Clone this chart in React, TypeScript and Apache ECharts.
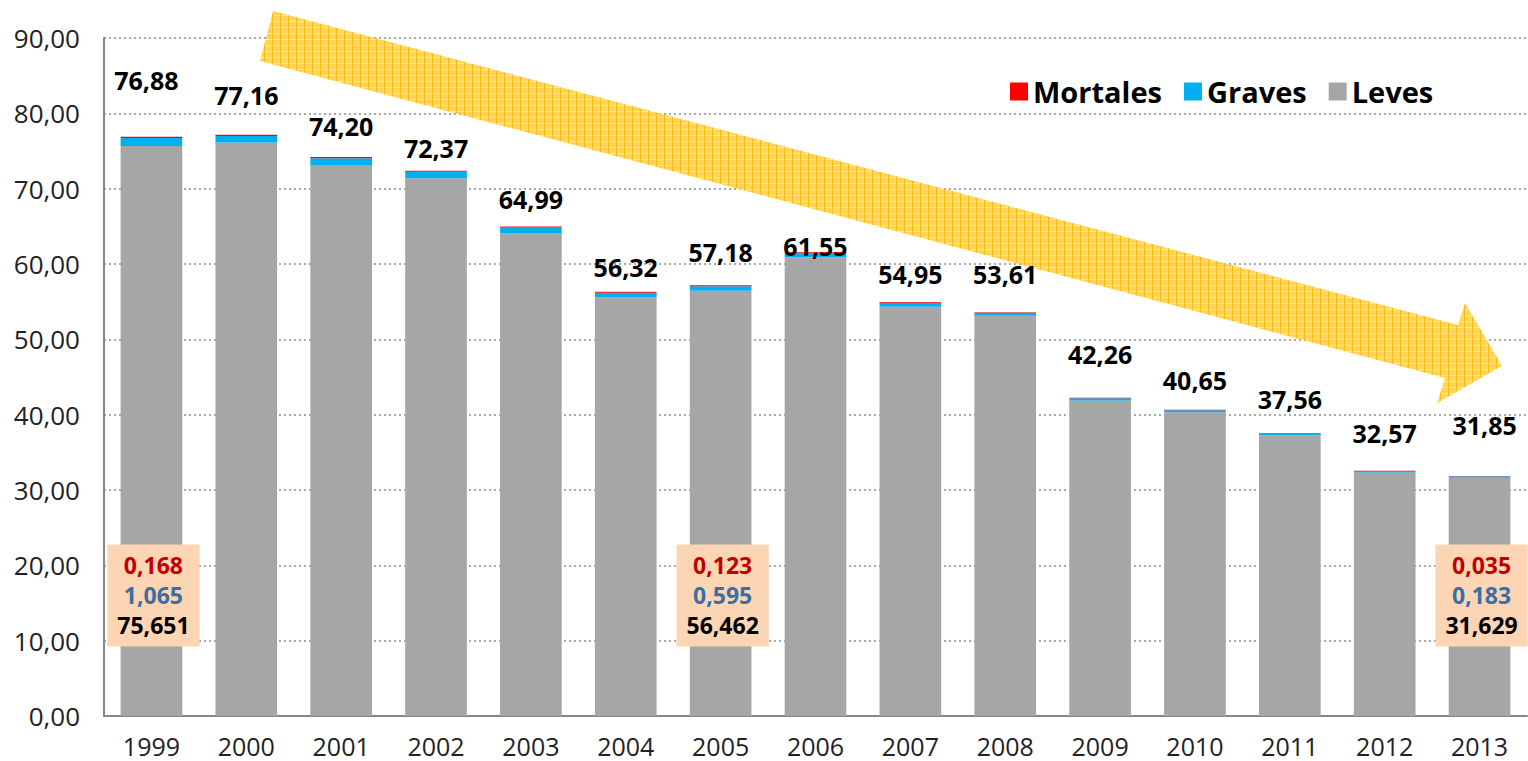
import React, { useEffect, useRef } from "react";
import * as echarts from "echarts";

const years = ["1999", "2000", "2001", "2002", "2003", "2004", "2005", "2006", "2007", "2008", "2009", "2010", "2011", "2012", "2013"];
const leves = [75.651, 76.14, 73.15, 71.38, 64.06, 55.59, 56.462, 60.88, 54.34, 53.12, 41.89, 40.31, 37.26, 32.33, 31.629];
const graves = [1.065, 0.85, 0.9, 0.85, 0.8, 0.6, 0.595, 0.55, 0.5, 0.4, 0.3, 0.28, 0.25, 0.2, 0.183];
const mortales = [0.168, 0.17, 0.15, 0.14, 0.13, 0.13, 0.123, 0.12, 0.11, 0.09, 0.07, 0.06, 0.05, 0.04, 0.035];
const boxYears = ["1999", "2005", "2013"];
const yTicks = { min: 0, max: 90, interval: 10 };

// styling: how far each total label sits above its bar (px) and horizontal nudge
const labelLift = [57, 40, 32, 23, 28, 25, 34, 7, 29, 39, 44, 30, 35, 38, 52];
const labelShift = [-5, 0, 0, 0, 0, 0, 0, 0, 0, 0, 0, 0, 0, 0, 5];

const fmt = (v: number, d: number) => v.toFixed(d).replace(".", ",");
const FONT = "'Open Sans', 'DejaVu Sans', sans-serif";

function makePattern(): string {
  const c = document.createElement("canvas");
  c.width = 8;
  c.height = 6;
  const ctx = c.getContext("2d")!;
  ctx.fillStyle = "#FFCF45";
  ctx.fillRect(0, 0, 8, 6);
  ctx.fillStyle = "#FFE594";
  ctx.fillRect(0, 3, 8, 1);
  ctx.fillStyle = "#F5B300";
  ctx.fillRect(0, 0, 1, 6);
  return c.toDataURL();
}

export default function App() {
  const ref = useRef<HTMLDivElement>(null);
  useEffect(() => {
    if (!ref.current) return;
    const chart = echarts.init(ref.current, undefined, { renderer: "svg" });
    const pattern = makePattern();
    const totals = years.map((_, i) => leves[i] + graves[i] + mortales[i]);
    const option: any = {
      animation: false,
      textStyle: { fontFamily: FONT },
      legend: {
        data: ["Mortales", "Graves", "Leves"],
        left: 1005,
        top: 72,
        icon: "rect",
        itemWidth: 18,
        itemHeight: 18,
        itemGap: 22,
        textStyle: { fontSize: 29, fontWeight: "bold", color: "#000", fontFamily: FONT },
      },
      grid: { left: 104, right: 1, top: 38, bottom: 45, containLabel: false },
      xAxis: {
        type: "category",
        data: years,
        axisLine: { lineStyle: { color: "#868686", width: 2 } },
        axisTick: { show: false },
        axisLabel: { fontSize: 25, color: "#222", margin: 17, fontFamily: FONT },
      },
      yAxis: {
        type: "value",
        min: yTicks.min,
        max: yTicks.max,
        interval: yTicks.interval,
        axisLine: { show: true, lineStyle: { color: "#868686", width: 2 } },
        axisTick: { show: false },
        splitLine: { lineStyle: { color: "#8c8c8c", type: [2, 3], width: 1.5 } },
        axisLabel: { fontSize: 26, color: "#222", margin: 24, fontFamily: FONT, formatter: (v: number) => fmt(v, 2) },
      },
      graphic: [
        {
          type: "polygon",
          z: 1,
          shape: {
            points: [
              [273, 11],
              [1458, 325],
              [1465, 303],
              [1502, 366],
              [1437, 403],
              [1445, 378],
              [260, 61],
            ],
          },
          style: {
            fill: { image: pattern, repeat: "repeat", imageWidth: 8, imageHeight: 6 },
            opacity: 0.9,
          },
        },
      ],
      series: [
        {
          name: "Leves",
          type: "bar",
          stack: "t",
          barWidth: "65%",
          data: leves,
          itemStyle: { color: "#A6A6A6" },
        },
        {
          name: "Graves",
          type: "bar",
          stack: "t",
          data: graves,
          itemStyle: { color: "#00B0F0" },
        },
        {
          name: "Mortales",
          type: "bar",
          stack: "t",
          data: mortales.map((m, i) => ({
            value: m,
            label: {
              show: true,
              position: "top",
              distance: labelLift[i] - 13,
              offset: [labelShift[i], 0],
              formatter: () => fmt(totals[i], 2),
            },
          })),
          itemStyle: { color: "#FF0000" },
          label: { fontSize: 25, fontWeight: "bold", color: "#000", fontFamily: FONT },
        },
        {
          name: "boxes",
          type: "scatter",
          symbolSize: 0,
          itemStyle: { color: "transparent", opacity: 1 },
          z: 10,
          silent: true,
          data: boxYears.map((y) => [years.indexOf(y), 16]),
          label: {
            show: true,
            position: "inside",
            offset: [2, 0],
            backgroundColor: "#FCD5B4",
            padding: [6, 10],
            fontFamily: FONT,
            formatter: (p: any) => {
              const i = p.data[0];
              return `{m|${fmt(mortales[i], 3)}}\n{g|${fmt(graves[i], 3)}}\n{l|${fmt(leves[i], 3)}}`;
            },
            rich: {
              m: { color: "#C00000", fontSize: 23, fontWeight: "bold", lineHeight: 30, fontFamily: FONT },
              g: { color: "#3A6EA5", fontSize: 23, fontWeight: "bold", lineHeight: 30, fontFamily: FONT },
              l: { color: "#000", fontSize: 23, fontWeight: "bold", lineHeight: 30, fontFamily: FONT },
            },
          },
        },
      ],
    };
    chart.setOption(option);
    return () => chart.dispose();
  }, []);
  return <div ref={ref} style={{ position: "fixed", left: 0, top: 0, width: 1528, height: 761, background: "#fff" }} />;
}
